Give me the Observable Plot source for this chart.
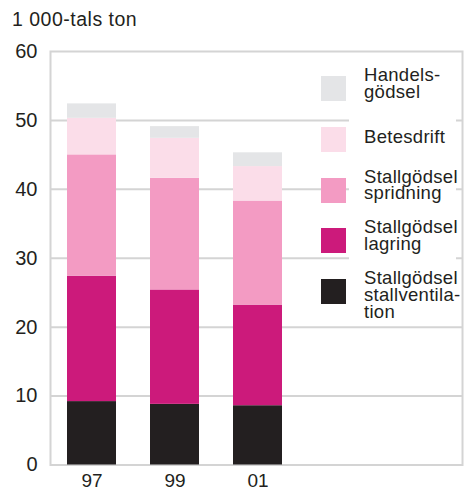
<!DOCTYPE html>
<html>
<head>
<meta charset="utf-8">
<script src="https://cdn.jsdelivr.net/npm/d3@7"></script>
<script src="https://cdn.jsdelivr.net/npm/@observablehq/plot@0.6"></script>
<style>
  html, body { margin: 0; padding: 0; background: #fff; }
  #wrap { position: relative; width: 464px; height: 490px; overflow: hidden;
          font-family: "Liberation Sans", Arial, Helvetica, sans-serif; color: #231f20; }
  #title { position: absolute; left: 12px; top: 9px; font-size: 19.5px; line-height: 20px; letter-spacing: 0.5px; white-space: nowrap; }
  #legbg { position: absolute; left: 349px; top: 60px; width: 107px; height: 263px; background: #fff; }
  .sw { position: absolute; left: 321px; width: 25px; height: 25px; }
  .lab { position: absolute; left: 364px; font-size: 18.5px; letter-spacing: 0.3px; white-space: nowrap; }
  .lab div { height: 16.8px; line-height: 16.8px; overflow: visible; }
  #chart svg { display: block; }
</style>
</head>
<body>
<div id="wrap">
  <div id="chart"></div>
  <div id="title"></div>
  <div id="legbg"></div>
</div>
<script>
const unit = "1 000-tals ton";
const years = ["97", "99", "01"];
const yTicks = [0, 10, 20, 30, 40, 50, 60];

// legend order (top to bottom)
const series = ["Handelsgödsel", "Betesdrift", "Stallgödsel spridning", "Stallgödsel lagring", "Stallgödsel stallventilation"];
const legendLines = [["Handels-", "gödsel"], ["Betesdrift"], ["Stallgödsel", "spridning"], ["Stallgödsel", "lagring"], ["Stallgödsel", "stallventila-", "tion"]];
const colors = ["#e4e5e7", "#fbdde9", "#f39bc3", "#cc1a7b", "#231f20"];

const handelsgodsel = [2.1, 1.7, 2.0];
const betesdrift = [5.3, 5.8, 5.0];
const spridning = [17.6, 16.2, 15.1];
const lagring = [18.2, 16.6, 14.6];
const stallventilation = [9.2, 8.8, 8.6];

const valuesBySeries = [handelsgodsel, betesdrift, spridning, lagring, stallventilation];

// stack from bottom: stallventilation first
const rows = [];
for (let s = series.length - 1; s >= 0; s--) {
  years.forEach((yr, i) => rows.push({ year: yr, series: series[s], value: valuesBySeries[s][i] }));
}

const W = 464, H = 490;
const chart = Plot.plot({
  width: W,
  height: H,
  marginLeft: 50,
  marginRight: 2,
  marginTop: 51,
  marginBottom: 25.5,
  style: { fontFamily: "'Liberation Sans', Arial, Helvetica, sans-serif", fontSize: "20px", color: "#231f20", background: "#fff" },
  x: { domain: years, range: [50, 299], paddingInner: 0.41, paddingOuter: 0.205, align: 0.5, label: null },
  y: { domain: [0, 60], label: null },
  color: { domain: series, range: colors },
  marks: [
    Plot.ruleY(yTicks.slice(1, -1), { stroke: "#d4d4d4", strokeWidth: 2 }),
    Plot.frame({ stroke: "#d4d4d4", strokeWidth: 2 }),
    Plot.barY(rows, { x: "year", y: "value", fill: "series", order: null }),
    Plot.axisY({ ticks: yTicks, tickSize: 0, tickPadding: 13, fontSize: 20, label: null }),
    Plot.axisX({ tickSize: 0, tickPadding: 8.5, fontSize: 19, label: null })
  ]
});
document.getElementById("chart").appendChild(chart);
document.getElementById("title").textContent = unit;

const wrap = document.getElementById("wrap");
const color = chart.scale("color");
series.forEach((s, i) => {
  const top = 76 + i * 50.75;
  const sw = document.createElement("div");
  sw.className = "sw";
  sw.style.top = top + "px";
  sw.style.background = color.apply(s);
  wrap.appendChild(sw);
  const lab = document.createElement("div");
  lab.className = "lab";
  const lines = legendLines[i];
  lab.style.top = (lines.length > 1 ? top - 9 : top + 2) + "px";
  lines.forEach(l => {
    const d = document.createElement("div");
    d.textContent = l;
    lab.appendChild(d);
  });
  wrap.appendChild(lab);
});
</script>
</body>
</html>
